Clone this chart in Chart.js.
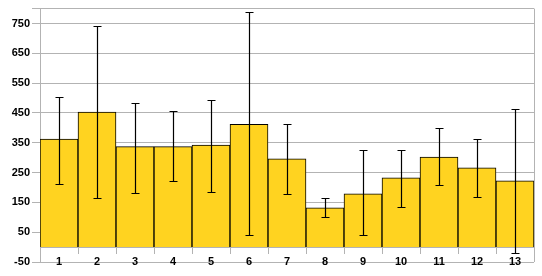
<!DOCTYPE html>
<html>
<head>
<meta charset="utf-8">
<script src="https://cdn.jsdelivr.net/npm/chart.js@4"></script>
<style>
  html, body { margin: 0; padding: 0; background: #fff; }
  #wrap { width: 542px; height: 276px; }
</style>
</head>
<body>
<div id="wrap"><canvas id="chart"></canvas></div>
<script>
const categories = ["1", "2", "3", "4", "5", "6", "7", "8", "9", "10", "11", "12", "13"];
const means = [362, 453, 337, 337, 342, 412, 296, 132, 179, 232, 302, 266, 222];
const errHigh = [505, 742, 484, 456, 494, 788, 414, 164, 326, 326, 399, 362, 462];
const errLow = [212, 166, 182, 222, 186, 42, 179, 102, 39, 136, 207, 169, -21];
const yTicks = [-50, 50, 150, 250, 350, 450, 550, 650, 750, 800];

// error bars, drawn from the y scale
const errorBars = {
  id: "errorBars",
  afterDatasetsDraw(chart) {
    const { ctx, scales: { y } } = chart;
    const meta = chart.getDatasetMeta(0);
    ctx.save();
    ctx.strokeStyle = "#000";
    ctx.lineWidth = 1.2;
    meta.data.forEach((bar, i) => {
      const x = Math.round(bar.x) + 0.5;
      const top = Math.round(y.getPixelForValue(errHigh[i])) + 0.5;
      const bot = Math.round(y.getPixelForValue(errLow[i])) + 0.5;
      ctx.beginPath();
      ctx.moveTo(x, top);
      ctx.lineTo(x, bot);
      ctx.moveTo(x - 4, top);
      ctx.lineTo(x + 4, top);
      ctx.moveTo(x - 4, bot);
      ctx.lineTo(x + 4, bot);
      ctx.stroke();
    });
    ctx.restore();
  }
};

// right border of the plot
const frame = {
  id: "frame",
  beforeDatasetsDraw(chart) {
    const { ctx, chartArea: a } = chart;
    ctx.save();
    ctx.strokeStyle = "#b3b3b3";
    ctx.lineWidth = 1;
    ctx.beginPath();
    ctx.moveTo(Math.round(a.right) + 0.5, a.top);
    ctx.lineTo(Math.round(a.right) + 0.5, a.bottom);
    ctx.stroke();
    ctx.restore();
  }
};

new Chart(document.getElementById("chart"), {
  type: "bar",
  data: {
    labels: categories,
    datasets: [{
      data: means,
      backgroundColor: "#ffd320",
      borderColor: "#000",
      borderWidth: 1,
      categoryPercentage: 1,
      barPercentage: 1
    }]
  },
  options: {
    responsive: true,
    maintainAspectRatio: false,
    animation: false,
    layout: { padding: { top: 7, right: 8, bottom: 14, left: 0 } },
    plugins: { legend: { display: false }, tooltip: { enabled: false } },
    scales: {
      x: {
        position: { y: 0 },
        grid: { drawOnChartArea: false, offset: true, tickLength: 6, color: "#b3b3b3" },
        border: { color: "#b3b3b3" },
        ticks: { padding: 2, color: "#000", font: { family: "Liberation Sans", size: 11, weight: "bold" } }
      },
      y: {
        min: -50,
        max: 800,
        afterBuildTicks: (scale) => { scale.ticks = yTicks.map(v => ({ value: v })); },
        afterFit: (scale) => { scale.width = 40; },
        grid: { color: "#b3b3b3", tickLength: 8 },
        border: { color: "#b3b3b3" },
        ticks: {
          padding: 2,
          color: "#000",
          font: { family: "Liberation Sans", size: 11, weight: "bold" },
          callback: (v) => (v === 800 ? "" : v)
        }
      }
    }
  },
  plugins: [errorBars, frame]
});
</script>
</body>
</html>
